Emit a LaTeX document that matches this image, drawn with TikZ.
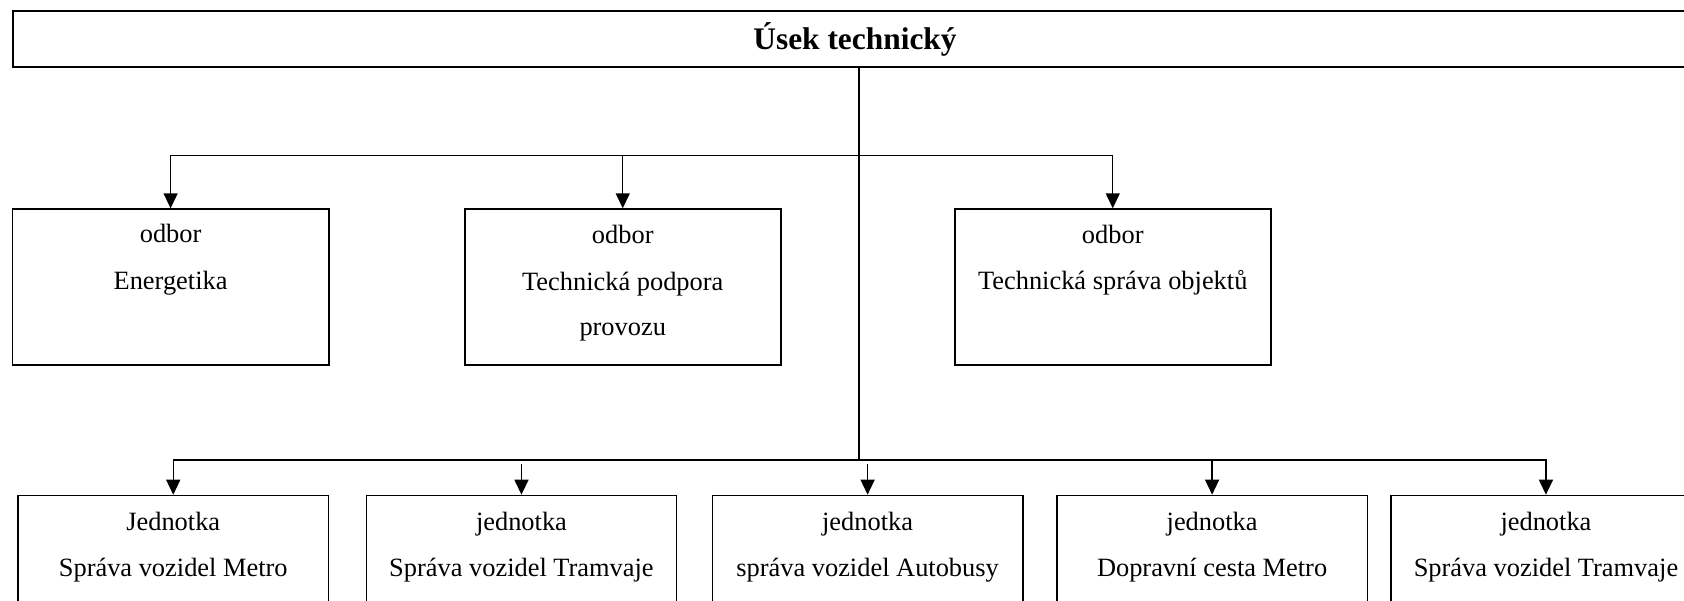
\documentclass[tikz,border=0pt]{standalone}
\usepackage{fontspec}
\setmainfont{Liberation Serif}
\usetikzlibrary{arrows.meta,calc}
\tikzset{
  box/.style={draw=black, line width=1.5pt, rectangle, inner sep=0pt, anchor=north west},
  topbox/.style={box, line width=2pt},
  txt/.style={anchor=base, inner sep=0pt, font=\fontsize{26.4}{30}\selectfont},
  ttl/.style={anchor=base, inner sep=0pt, font=\fontsize{31.4}{38}\selectfont\bfseries},
  conn/.style={draw=black, line width=1.4pt},
  arr/.style={conn, -{Triangle[width=14pt,length=15pt]}},
}
\begin{document}
\begin{tikzpicture}[x=1pt,y=-1pt]
\clip (0,0) rectangle (1684,600);
\fill[white] (0,0) rectangle (1684,600);
% boxes
\node[topbox, minimum width=1695pt, minimum height=56pt] (top) at (11.5,10) {};
\node[ttl] (ttl) at (855,49) {Úsek technický};

\node[box, minimum width=316.3pt, minimum height=155.7pt] (A) at (11.7,208.3) {};
\node[box, minimum width=316pt, minimum height=155.7pt] (B) at (464,208.3) {};
\node[box, minimum width=316pt, minimum height=155.7pt] (C) at (954,208.3) {};

\node[box, minimum width=310.4pt, minimum height=140pt] (b1) at (17.3,494.7) {};
\node[box, minimum width=310pt, minimum height=140pt] (b2) at (365.7,494.7) {};
\node[box, minimum width=310.3pt, minimum height=140pt] (b3) at (711.7,494.7) {};
\node[box, minimum width=310.7pt, minimum height=140pt] (b4) at (1056,494.7) {};
\node[box, minimum width=310.4pt, minimum height=140pt] (b5) at (1390,494.7) {};

% texts
\node[txt] (A1) at ($(A.north)+(0,34.4)$) {odbor};
\node[txt] (A2) at ($(A.north)+(0,81)$) {Energetika};
\node[txt] (B1) at ($(B.north)+(0,35)$) {odbor};
\node[txt] (B2) at ($(B.north)+(0,81.7)$) {Technická podpora};
\node[txt] (B3) at ($(B.north)+(0,126.7)$) {provozu};
\node[txt] (C1) at ($(C.north)+(0,35)$) {odbor};
\node[txt] (C2) at ($(C.north)+(0,81)$) {Technická správa objektů};

\node[txt] (b11) at ($(b1.north)+(0,35.3)$) {Jednotka};
\node[txt] (b12) at ($(b1.north)+(0,81.3)$) {Správa vozidel Metro};
\node[txt] (b21) at ($(b2.north)+(0,35.3)$) {jednotka};
\node[txt] (b22) at ($(b2.north)+(0,81.3)$) {Správa vozidel Tramvaje};
\node[txt] (b31) at ($(b3.north)+(0,35.3)$) {jednotka};
\node[txt] (b32) at ($(b3.north)+(0,81.3)$) {správa vozidel Autobusy};
\node[txt] (b41) at ($(b4.north)+(0,35.3)$) {jednotka};
\node[txt] (b42) at ($(b4.north)+(0,81.3)$) {Dopravní cesta Metro};
\node[txt] (b51) at ($(b5.north)+(0,35.3)$) {jednotka};
\node[txt] (b52) at ($(b5.north)+(0,81.3)$) {Správa vozidel Tramvaje};

% connectors
\coordinate (tu) at (859,155.7);
\coordinate (tb) at (859,460);
\coordinate (gap) at (0,463.5);
\draw[conn] (top.south -| tb) -- (tb);
\draw[arr] (tu) -| (A.north);
\draw[arr] (tu) -| (B.north);
\draw[arr] (tu) -| (C.north);
\draw[arr] (tb) -| (b1.north);
\draw[arr] (tb) -| (b4.north);
\draw[arr] (tb) -| (b5.north);
\draw[arr] (b2.north |- gap) -- (b2.north);
\draw[arr] (b3.north |- gap) -- (b3.north);
\end{tikzpicture}
\end{document}
